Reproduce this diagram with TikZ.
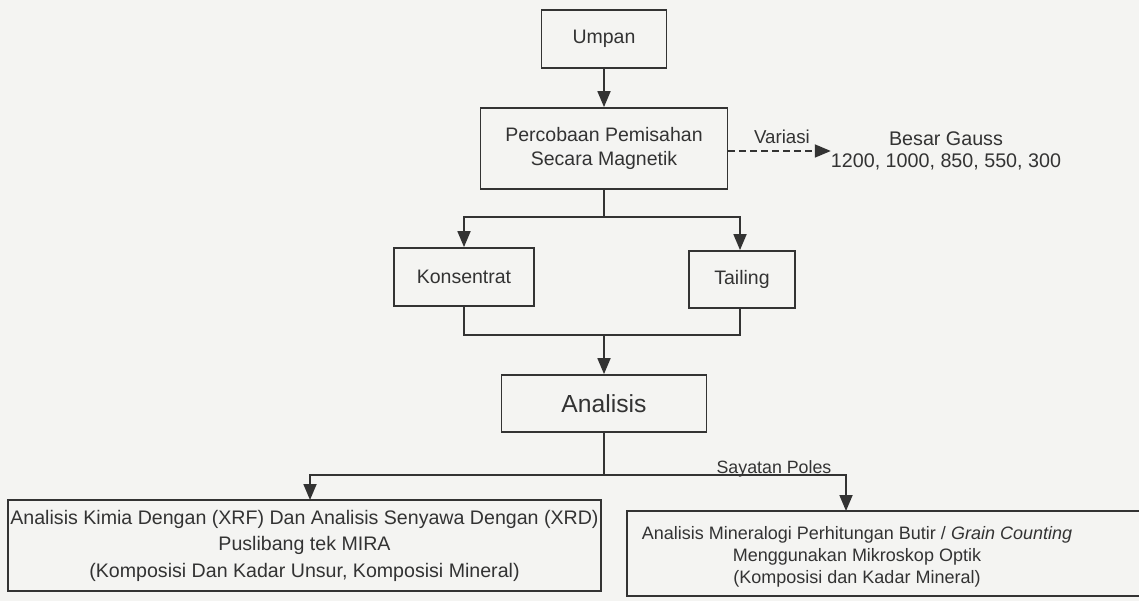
\documentclass[tikz,border=0pt]{standalone}
\usepackage{fontspec}
\setmainfont{Liberation Sans}
\usetikzlibrary{arrows.meta}
\definecolor{ink}{HTML}{333333}
\definecolor{paper}{HTML}{F4F4F2}
\begin{document}
\begin{tikzpicture}[x=1pt,y=-1pt,
  box/.style={draw=ink, line width=1.8pt, inner sep=0pt, text=ink, align=center},
  lbl/.style={inner sep=0pt, text=ink, align=center},
  conn/.style={draw=ink, line width=1.8pt},
  arr/.style={conn, -{Triangle[length=16pt,width=13pt]}},
  main/.style={font=\fontsize{19.5}{24}\selectfont}
]
\clip (0,0) rectangle (1139,601);
\fill[paper] (0,0) rectangle (1139,601);

\node[box, main, minimum width=125pt, minimum height=58pt] (umpan) at (604,39) {Umpan};
\node[box, main, minimum width=247pt, minimum height=81pt] (perc) at (604,148.5) {Percobaan Pemisahan\\Secara Magnetik};
\node[lbl, font=\fontsize{19.7}{22}\selectfont] (gauss) at (946,151) {Besar Gauss\\1200, 1000, 850, 550, 300};
\node[lbl, font=\fontsize{18.7}{22}\selectfont] (variasi) at (782,137) {Variasi};
\node[box, main, minimum width=140pt, minimum height=58pt] (kons) at (464,277) {Konsentrat};
\node[box, main, minimum width=106pt, minimum height=57pt] (tail) at (742,279.5) {Tailing};
\node[box, font=\fontsize{24.7}{28}\selectfont, minimum width=205pt, minimum height=57pt] (anal) at (604,403.5) {Analisis};
\node[box, font=\fontsize{19.6}{26.5}\selectfont, minimum width=593pt, minimum height=91pt] (lbox) at (304.5,545.5) {Analisis Kimia Dengan (XRF) Dan Analisis Senyawa Dengan (XRD)\\Puslibang tek MIRA\\(Komposisi Dan Kadar Unsur, Komposisi Mineral)};
\node[box, minimum width=533pt, minimum height=85pt] (rbox) at (893.5,553.5) {};
\node[lbl, font=\fontsize{18}{22}\selectfont] (rtext) at (857,557) {Analisis Mineralogi Perhitungan Butir / \textit{Grain Counting}\\Menggunakan Mikroskop Optik\\(Komposisi dan Kadar Mineral)};
\node[lbl, font=\fontsize{17.8}{20}\selectfont, anchor=base] (sayatan) at (774,473.5) {Sayatan Poles};

\coordinate (s1) at (604,217);
\coordinate (m1) at (604,335);
\coordinate (s2) at (604,475);
\coordinate (la) at (310,500);
\coordinate (ra) at (846,511);

\draw[arr] (umpan.south) -- (perc.north);
\draw[arr, dash pattern=on 7pt off 4pt] (perc.east |- gauss.west) -- (gauss.west);
\draw[conn] (perc.south) -- (s1);
\draw[arr] (s1) -| (kons.north);
\draw[arr] (s1) -| ([xshift=-2pt]tail.north);
\draw[conn] (kons.south) |- (m1) -| ([xshift=-2pt]tail.south);
\draw[arr] (m1) -- (anal.north);
\draw[conn] (anal.south) -- (s2);
\draw[arr] (s2) -| (la);
\draw[arr] (s2) -| (ra);
\end{tikzpicture}
\end{document}
